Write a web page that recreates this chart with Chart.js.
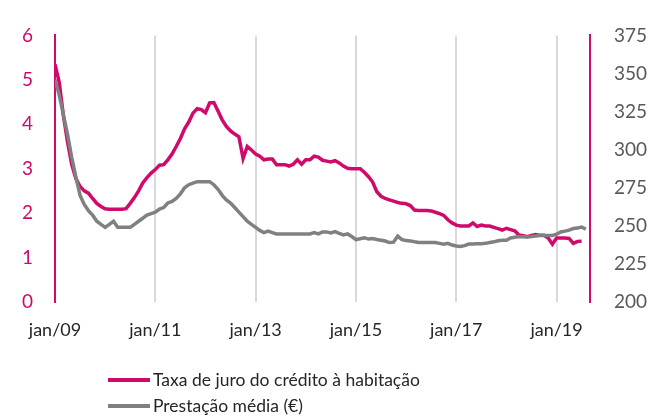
<!DOCTYPE html>
<html>
<head>
<meta charset="utf-8">
<script src="https://cdn.jsdelivr.net/npm/chart.js@4.4.1/dist/chart.umd.min.js"></script>
<style>
  html, body { margin: 0; padding: 0; background: #fff; }
  #wrap { width: 667px; height: 419px; position: relative; }
</style>
</head>
<body>
<div id="wrap"><canvas id="myChart"></canvas></div>
<script>
// monthly values, jan/09 onwards
const rateLabel = "Taxa de juro do crédito à habitação";
const paymentLabel = "Prestação média (€)";

const rateValues = [
  5.35, 4.95, 4.2, 3.6, 3.1, 2.78, 2.6, 2.5, 2.45, 2.33, 2.22, 2.15,
  2.1, 2.09, 2.09, 2.09, 2.09, 2.1, 2.22, 2.35, 2.5, 2.68, 2.8, 2.9,
  2.98, 3.08, 3.09, 3.2, 3.33, 3.5, 3.68, 3.9, 4.05, 4.25, 4.35, 4.33,
  4.26, 4.48, 4.49, 4.3, 4.1, 3.95, 3.85, 3.78, 3.72, 3.23, 3.5, 3.42,
  3.33, 3.28, 3.2, 3.22, 3.22, 3.09, 3.09, 3.09, 3.06, 3.1, 3.2, 3.1,
  3.2, 3.2, 3.28, 3.26, 3.19, 3.17, 3.15, 3.18, 3.13, 3.06, 3.01, 3.0,
  3.0, 3.0, 2.92, 2.82, 2.7, 2.48, 2.38, 2.33, 2.3, 2.27, 2.24, 2.22,
  2.21, 2.17, 2.07, 2.06, 2.06, 2.06, 2.05, 2.02, 1.99, 1.95, 1.85, 1.78,
  1.73, 1.71, 1.71, 1.71, 1.78, 1.7, 1.73, 1.71, 1.71, 1.68, 1.65, 1.62,
  1.66, 1.63, 1.6, 1.51, 1.49, 1.47, 1.5, 1.52, 1.5, 1.5, 1.44, 1.3,
  1.44, 1.44, 1.44, 1.43, 1.32, 1.36, 1.37
];

const paymentValues = [
  346, 336, 323, 310, 295, 282, 270, 264, 260, 257, 253, 251,
  249, 251, 253, 249, 249, 249, 249, 251, 253, 255, 257, 258,
  259, 261, 262, 265, 266, 268, 271, 275, 277, 278, 279, 279,
  279, 279, 277, 274, 270, 267, 265, 262, 259, 256, 253, 251,
  249, 247, 245.5, 246.5, 245.5, 244.7, 244.7, 244.7, 244.7, 244.7, 244.7, 244.7,
  244.7, 244.7, 245.5, 244.7, 246, 246, 245.3, 246.2, 245, 244, 244.7, 243,
  241, 241.5, 242.2, 241.3, 241.6, 241, 240.5, 240, 239, 239.3, 243.3, 241,
  240.3, 240.1, 239.5, 239, 239, 239, 239, 239, 238.5, 238, 238.5, 237.4,
  236.8, 236.5, 237, 238, 238, 238.2, 238.3, 238.5, 239, 239.5, 240.2, 240.5,
  240.5, 242, 242.5, 243, 242.8, 242.6, 243, 243.3, 243.6, 243.6, 243.6, 243.6,
  244.5, 246, 246.5, 247.2, 248.2, 248.5, 249.2, 247.8
];

const xTickLabels = ["jan/09", "jan/11", "jan/13", "jan/15", "jan/17", "jan/19"];
const monthsPerTick = 24;
const xMax = 128;

const pink = "#CF0A6B";
const grey = "#808080";
const font = "Lato, 'Open Sans', sans-serif";

const bottomLegend = {
  id: "bottomLegend",
  afterDraw(chart) {
    const ctx = chart.ctx;
    const items = [
      { text: rateLabel, color: pink },
      { text: paymentLabel, color: grey }
    ];
    ctx.save();
    ctx.font = "17.5px " + font;
    ctx.textBaseline = "middle";
    ctx.textAlign = "left";
    items.forEach((it, i) => {
      const y = 380 + i * 26;
      ctx.strokeStyle = it.color;
      ctx.lineWidth = 4;
      ctx.beginPath();
      ctx.moveTo(108, y);
      ctx.lineTo(150, y);
      ctx.stroke();
      ctx.fillStyle = "#262626";
      ctx.fillText(it.text, 153, y);
    });
    ctx.restore();
  }
};

const ctx = document.getElementById("myChart").getContext("2d");
new Chart(ctx, {
  type: "line",
  data: {
    datasets: [
      {
        label: paymentLabel,
        data: paymentValues.map((v, i) => ({ x: i, y: v })),
        borderColor: grey,
        borderWidth: 3.5,
        pointRadius: 0,
        tension: 0,
        yAxisID: "y2"
      },
      {
        label: rateLabel,
        data: rateValues.map((v, i) => ({ x: i, y: v })),
        borderColor: pink,
        borderWidth: 3.5,
        pointRadius: 0,
        tension: 0,
        yAxisID: "y"
      }
    ]
  },
  options: {
    responsive: true,
    maintainAspectRatio: false,
    animation: false,
    layout: { padding: { top: 20, bottom: 70, left: 0, right: 0 } },
    plugins: {
      legend: { display: false },
      tooltip: { enabled: false }
    },
    scales: {
      x: {
        type: "linear",
        min: 0,
        max: xMax,
        afterBuildTicks: axis => {
          axis.ticks = xTickLabels.map((l, i) => ({ value: i * monthsPerTick }));
        },
        afterFit: s => { s.height = 47; },
        ticks: {
          color: "#262626",
          font: { family: font, size: 18 },
          padding: 17,
          maxRotation: 0,
          autoSkip: false,
          callback: v => xTickLabels[v / monthsPerTick]
        },
        grid: { color: "#d9d9d9", lineWidth: 2, drawTicks: false },
        border: { display: false }
      },
      y: {
        position: "left",
        min: 0,
        max: 6,
        afterFit: s => { s.width = 55; },
        ticks: {
          stepSize: 1,
          color: pink,
          font: { family: font, size: 19 },
          padding: 22
        },
        grid: { display: false, drawTicks: false },
        border: { display: true, color: pink, width: 2 }
      },
      y2: {
        position: "right",
        min: 200,
        max: 375,
        afterFit: s => { s.width = 77; },
        ticks: {
          stepSize: 25,
          color: "#595959",
          font: { family: font, size: 19 },
          padding: 24
        },
        grid: { display: false, drawTicks: false },
        border: { display: true, color: pink, width: 2 }
      }
    }
  },
  plugins: [bottomLegend]
});
</script>
</body>
</html>
